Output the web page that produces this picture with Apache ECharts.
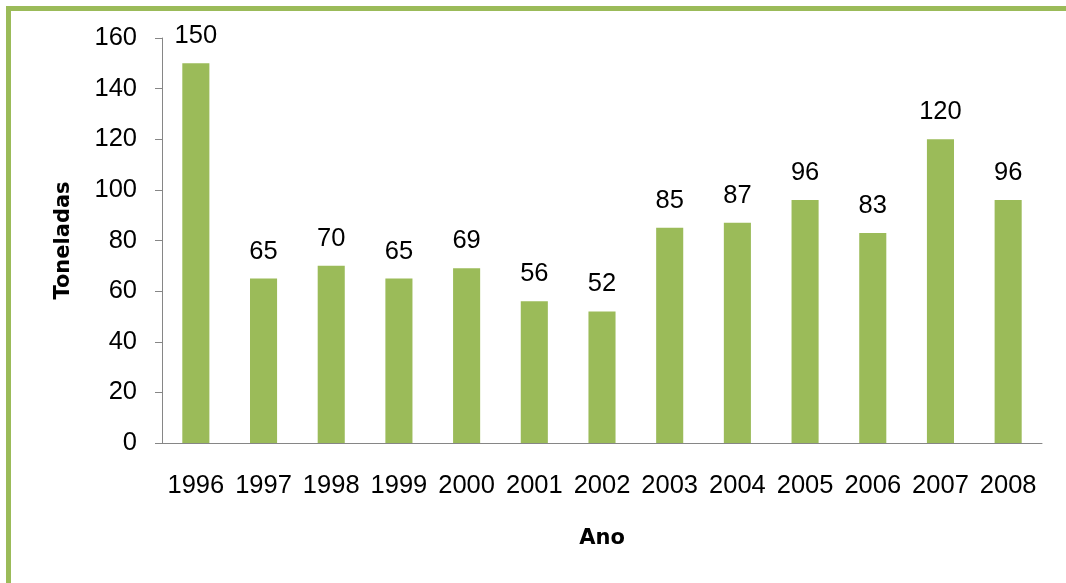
<!DOCTYPE html>
<html>
<head>
<meta charset="utf-8">
<script src="https://cdn.jsdelivr.net/npm/echarts@6/dist/echarts.min.js"></script>
<style>
  body { margin: 0; background: #fff; }
  .frame {
    position: absolute; left: 6px; top: 6px; right: 0; bottom: 0;
    border-left: 5px solid #9bbb59; border-top: 5px solid #9bbb59;
  }
  #chart { position: absolute; left: 0; top: 0; width: 1066px; height: 583px; }
</style>
</head>
<body>
<div class="frame"></div>
<div id="chart"></div>
<script>
var anos = ['1996', '1997', '1998', '1999', '2000', '2001', '2002', '2003', '2004', '2005', '2006', '2007', '2008'];
var toneladas = [150, 65, 70, 65, 69, 56, 52, 85, 87, 96, 83, 120, 96];

var myChart = echarts.init(document.getElementById('chart'));
var option = {
  animation: false,
  grid: { left: 162, right: 24, top: 38, bottom: 140 },
  xAxis: {
    type: 'category',
    data: anos,
    name: 'Ano',
    nameLocation: 'middle',
    nameGap: 85,
    nameTextStyle: { fontFamily: 'DejaVu Sans', fontWeight: 'bold', fontSize: 21, color: '#000' },
    axisLine: { lineStyle: { color: '#868686', width: 1 } },
    axisTick: { show: false },
    axisLabel: { interval: 0, margin: 30, fontFamily: 'Liberation Sans', fontSize: 25.5, color: '#000' }
  },
  yAxis: {
    type: 'value',
    min: 0,
    max: 160,
    interval: 20,
    name: 'Toneladas',
    nameLocation: 'middle',
    nameGap: 88,
    nameTextStyle: { fontFamily: 'DejaVu Sans', fontWeight: 'bold', fontSize: 21, color: '#000' },
    splitLine: { show: false },
    axisLine: { show: true, lineStyle: { color: '#868686', width: 1 } },
    axisTick: { show: true, length: 7, lineStyle: { color: '#868686' } },
    axisLabel: { margin: 25, fontFamily: 'Liberation Sans', fontSize: 25.5, color: '#000' }
  },
  series: [{
    type: 'bar',
    data: toneladas,
    barWidth: '40%',
    itemStyle: { color: '#9bbb59' },
    label: {
      show: true,
      position: 'top',
      distance: 14,
      fontFamily: 'Liberation Sans',
      fontSize: 25.5,
      color: '#000'
    }
  }]
};
myChart.setOption(option);
</script>
</body>
</html>
